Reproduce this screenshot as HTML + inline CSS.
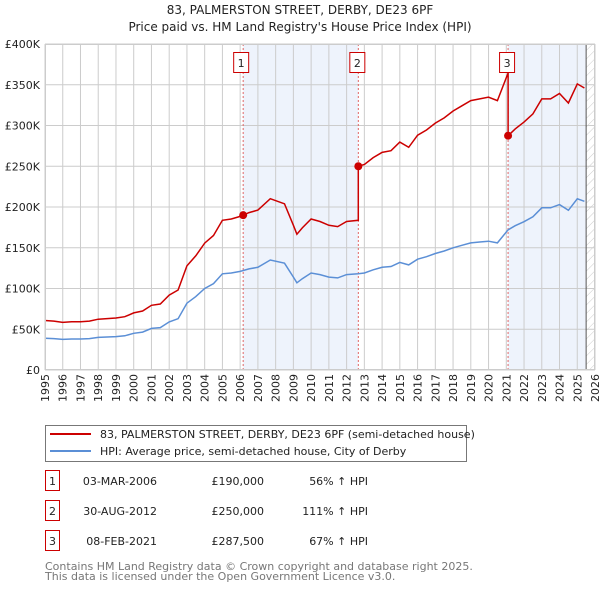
<!DOCTYPE html>
<html><head><meta charset="utf-8">
<style>
body{margin:0;background:#fff;font-family:"DejaVu Sans","Liberation Sans",sans-serif;}
svg text{font-family:"DejaVu Sans","Liberation Sans",sans-serif;}
</style></head>
<body>
<svg id="chart" width="600" height="590" viewBox="0 0 600 590" xmlns="http://www.w3.org/2000/svg">
<defs>
<pattern id="hatch" width="6" height="6" patternUnits="userSpaceOnUse" patternTransform="rotate(45)">
<line x1="0" y1="0" x2="0" y2="6" stroke="#ccc" stroke-width="1"/>
</pattern>
</defs>
<text x="300" y="14" text-anchor="middle" font-size="12" fill="#222">83, PALMERSTON STREET, DERBY, DE23 6PF</text>
<text x="300" y="31" text-anchor="middle" font-size="12" fill="#222">Price paid vs. HM Land Registry's House Price Index (HPI)</text>
<g id="plot"></g>
<g>
<rect x="45.5" y="425.5" width="421" height="36" fill="#fff" stroke="#777"/>
<line x1="50" y1="434" x2="91" y2="434" stroke="#cc0000" stroke-width="2"/>
<text x="100" y="438" font-size="11" fill="#222">83, PALMERSTON STREET, DERBY, DE23 6PF (semi-detached house)</text>
<line x1="50" y1="451" x2="91" y2="451" stroke="#5b8fd6" stroke-width="2"/>
<text x="100" y="455" font-size="11" fill="#222">HPI: Average price, semi-detached house, City of Derby</text>
</g>
<g id="table" font-size="11" fill="#222"></g>
<text x="45" y="570" font-size="11" fill="#777">Contains HM Land Registry data © Crown copyright and database right 2025.</text>
<text x="45" y="580" font-size="11" fill="#777">This data is licensed under the Open Government Licence v3.0.</text>
</svg>
<script>
const hpiYears=[1995,1995.5,1996,1996.5,1997,1997.5,1998,1998.5,1999,1999.5,2000,2000.5,2001,2001.5,2002,2002.5,2003,2003.5,2004,2004.5,2005,2005.5,2006,2006.5,2007,2007.7,2008.5,2009,2009.2,2009.5,2010,2010.5,2011,2011.5,2012,2012.66,2013,2013.5,2014,2014.5,2015,2015.5,2016,2016.5,2017,2017.5,2018,2018.5,2019,2019.5,2020,2020.5,2021.1,2021.5,2022,2022.5,2023,2023.5,2024,2024.5,2025,2025.4];
const hpiValues=[39,38.5,37.5,38,38,38.5,40,40.5,41,42,45,46.5,51,52,59,63,82,90,100,106,118,119,121,124,126,135,131,114,107,112,119,117,114,113,117,118,119,123,126,127,132,129,136,139,143,146,150,153,156,157,158,156,172,177,182,188,199,199,203,196,210,207];
const saleYears=[2006.17,2012.66,2021.1];
const salePrices=[190000,250000,287500];
const saleLabels=["1","2","3"];
const saleDates=["03-MAR-2006","30-AUG-2012","08-FEB-2021"];
const salePriceText=["£190,000","£250,000","£287,500"];
const saleHpiText=["56% ↑ HPI","111% ↑ HPI","67% ↑ HPI"];
const yTicks=[0,50000,100000,150000,200000,250000,300000,350000,400000];
const yTickLabels=["£0","£50K","£100K","£150K","£200K","£250K","£300K","£350K","£400K"];
const xTicks=[1995,1996,1997,1998,1999,2000,2001,2002,2003,2004,2005,2006,2007,2008,2009,2010,2011,2012,2013,2014,2015,2016,2017,2018,2019,2020,2021,2022,2023,2024,2025,2026];

const X0=45,X1=595,Y0=370,Y1=44;
const xs=y=>X0+(y-1995)/(2026-1995)*(X1-X0);
const ys=v=>Y0-v/400000*(Y0-Y1);
const NS="http://www.w3.org/2000/svg";
function mk(tag,attrs,parent){const e=document.createElementNS(NS,tag);for(const k in attrs)e.setAttribute(k,attrs[k]);parent.appendChild(e);return e;}
const plot=document.getElementById('plot');
const hatchStart=2025.5;
// shading
let sh=mk('rect',{x:xs(saleYears[0]),y:Y1,width:xs(saleYears[1])-xs(saleYears[0]),height:Y0-Y1,fill:'#eef3fc'},plot);


sh=mk('rect',{x:xs(saleYears[2]),y:Y1,width:xs(hatchStart)-xs(saleYears[2]),height:Y0-Y1,fill:'#eef3fc'},plot);


sh=mk('rect',{x:xs(hatchStart),y:Y1,width:X1-xs(hatchStart),height:Y0-Y1,fill:'url(#hatch)'},plot);


// grid
xTicks.forEach(t=>{const l=mk('line',{x1:xs(t),x2:xs(t),y1:Y1,y2:Y0,stroke:'#ccc','stroke-width':1},plot);


const tx=mk('text',{x:0,y:0,'font-size':11,fill:'#222','text-anchor':'end',transform:`translate(${xs(t)+4},${Y0+4}) rotate(-90)`},plot);tx.textContent=t;

});
yTicks.forEach((t,i)=>{const l=mk('line',{x1:X0,x2:X1,y1:ys(t),y2:ys(t),stroke:'#ccc','stroke-width':1},plot);


const tx=mk('text',{x:40,y:ys(t)+4,'font-size':11,fill:'#222','text-anchor':'end'},plot);tx.textContent=yTickLabels[i];

});
mk('line',{x1:xs(hatchStart),x2:xs(hatchStart),y1:Y1,y2:Y0,stroke:'#555','stroke-width':1},plot);
// sale vertical lines
saleYears.forEach((s,i)=>{const l=mk('line',{x1:xs(s),x2:xs(s),y1:Y1,y2:Y0,stroke:'#e06666','stroke-width':1,'stroke-dasharray':'2,2'},plot);

});
// hpi interpolation
function hpiAt(y){for(let i=0;i<hpiYears.length-1;i++){if(y<=hpiYears[i+1]){const f=(y-hpiYears[i])/(hpiYears[i+1]-hpiYears[i]);return hpiValues[i]+f*(hpiValues[i+1]-hpiValues[i]);}}return hpiValues[hpiValues.length-1];}
// blue
let d=hpiYears.map((y,i)=>(i?'L':'M')+xs(y).toFixed(1)+','+ys(hpiValues[i]*1000).toFixed(1)).join('');
const bl=mk('path',{d,fill:'none',stroke:'#5b8fd6','stroke-width':1.5},plot);


// red: hpi scaled by ratio at each sale
function ratioAt(y){let k=0;for(let i=0;i<saleYears.length;i++)if(y>=saleYears[i])k=i;return salePrices[k]/(hpiAt(saleYears[k])*1000);}
let pts=[];
hpiYears.forEach((y,i)=>{
  saleYears.forEach(s=>{if(i>0&&hpiYears[i-1]<s&&y>=s){const r0=ratioAt(s-0.001);pts.push([s,hpiAt(s)*1000*r0]);pts.push([s,hpiAt(s)*1000*ratioAt(s)]);}});
  pts.push([y,hpiValues[i]*1000*ratioAt(y)]);
});
d=pts.map((p,i)=>(i?'L':'M')+xs(p[0]).toFixed(1)+','+ys(p[1]).toFixed(1)).join('');
const rl=mk('path',{d,fill:'none',stroke:'#cc0000','stroke-width':1.5},plot);


saleYears.forEach((s,i)=>{const c=mk('circle',{cx:xs(s),cy:ys(salePrices[i]),r:4,fill:'#cc0000'},plot);


const bx=xs(s)-(i==0?9:8);
const r=mk('rect',{x:bx-0.5,y:52.5,width:15,height:20,fill:'#fff',stroke:'#cc0000'},plot);


const t=mk('text',{x:bx+7,y:67,'font-size':11,fill:'#222','text-anchor':'middle'},plot);t.textContent=saleLabels[i];

});
mk('rect',{x:X0+0.5,y:Y1+0.5,width:X1-X0-1,height:Y0-Y1-1,fill:'none',stroke:'#ccc'},plot);
// table
const tb=document.getElementById('table');
saleYears.forEach((s,i)=>{const yy=483+i*30;
const r=mk('rect',{x:45.5,y:yy-12.5,width:14,height:20,fill:'#fff',stroke:'#cc0000'},tb);


let t=mk('text',{x:52.5,y:yy+2,'text-anchor':'middle'},tb);t.textContent=saleLabels[i];


t=mk('text',{x:157,y:yy+2,'text-anchor':'end'},tb);t.textContent=saleDates[i];


t=mk('text',{x:264,y:yy+2,'text-anchor':'end'},tb);t.textContent=salePriceText[i];


t=mk('text',{x:368,y:yy+2,'text-anchor':'end'},tb);t.textContent=saleHpiText[i];

});
</script>
</body></html>
